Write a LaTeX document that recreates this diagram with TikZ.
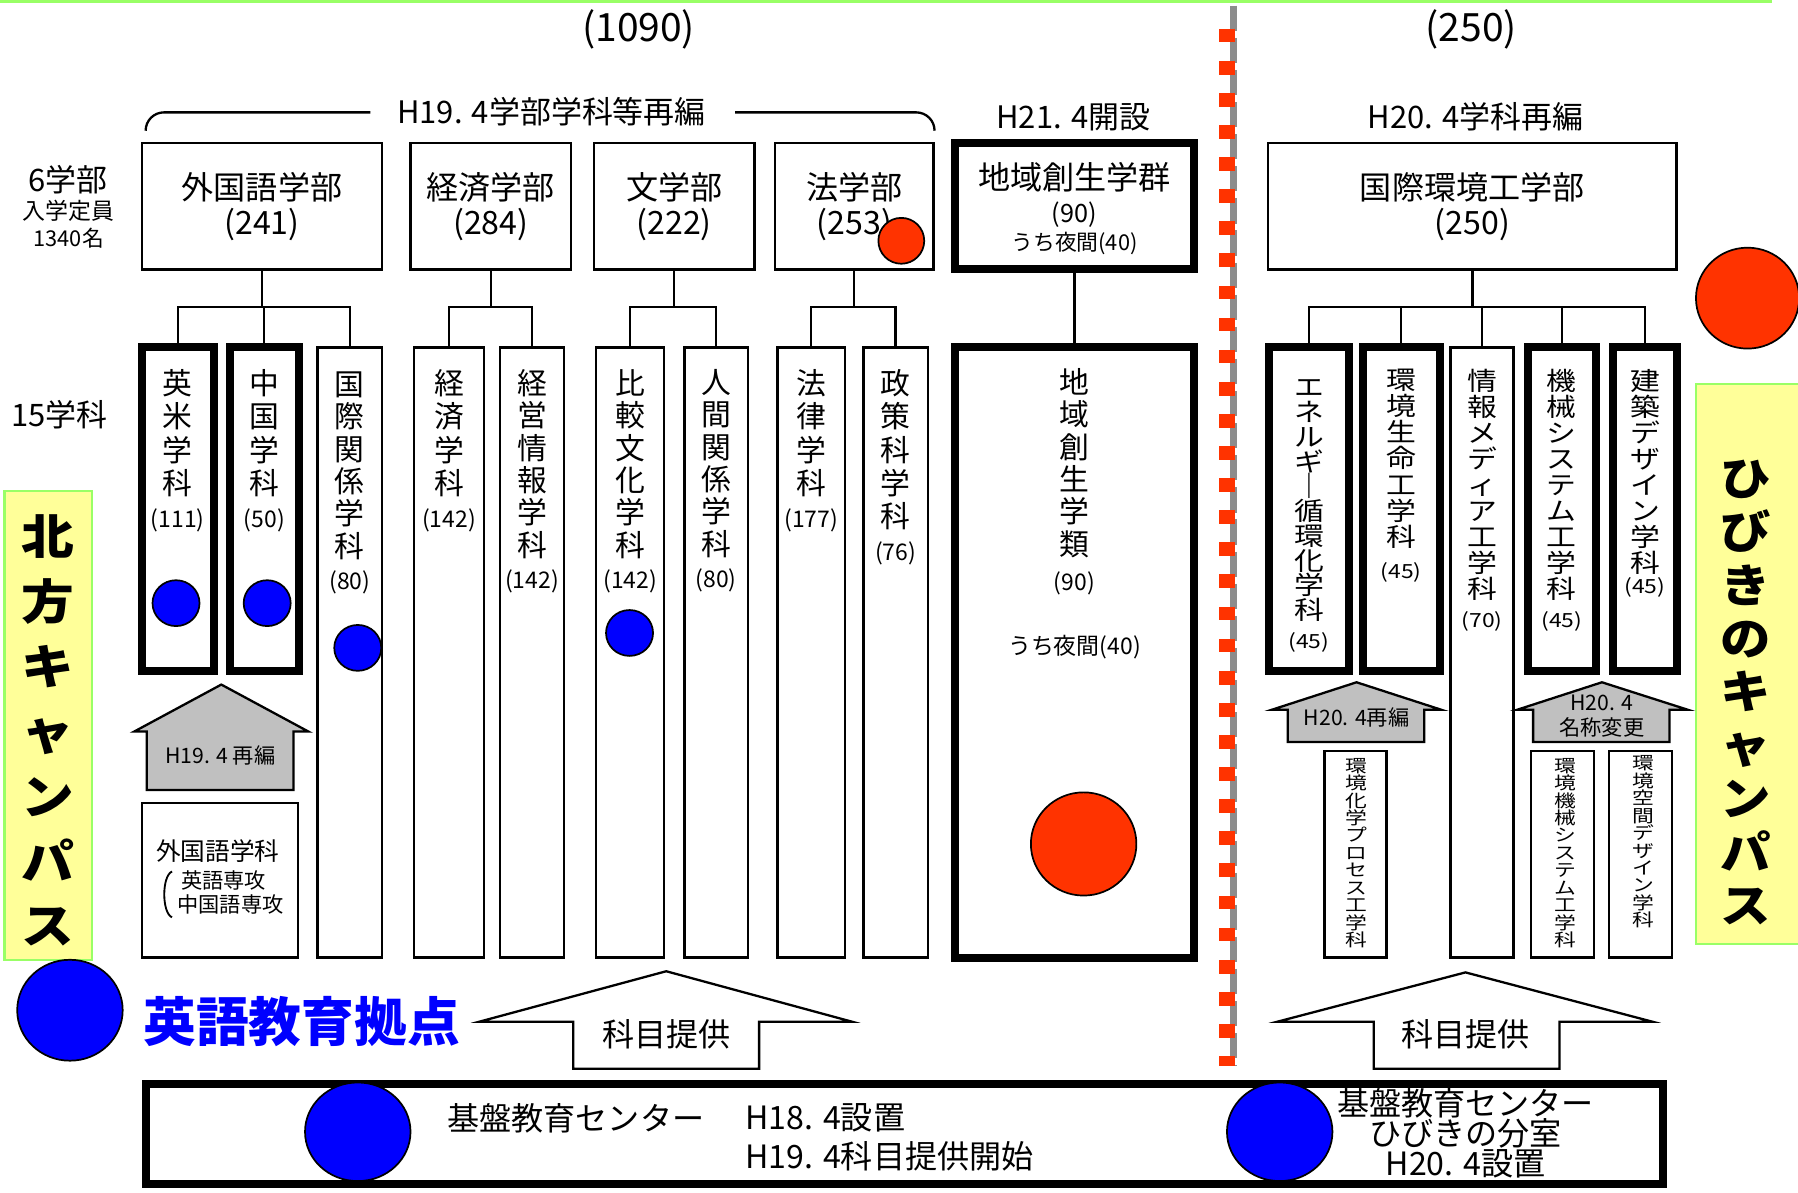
\documentclass[tikz,border=0pt]{standalone}
\usepackage{fontspec}
\setmainfont{Noto Sans CJK JP}
\usepackage{graphicx}
\usetikzlibrary{shapes.geometric}
\definecolor{myred}{HTML}{FF3300}
\definecolor{myblue}{HTML}{0000FF}
\definecolor{mygray}{HTML}{C0C0C0}
\definecolor{myyellow}{HTML}{FFFF99}
\definecolor{mygreen}{HTML}{99FF66}
\definecolor{divgray}{HTML}{8C8C8C}
\newcommand\fsz[1]{\fontsize{#1}{#1}\selectfont}
% vertical column of characters: yscale, font size, line skip, rows
\newcommand\vcol[4]{\scalebox{1}[#1]{\fontsize{#2}{#3}\selectfont\parbox{3em}{\centering #4}}}
% box node: style, line width, x1, y1, x2, y2 (outer), name, content
\newcommand\bn[8]{\node[#1,line width=#2pt,anchor=north west,inner sep=0pt,minimum width={#5-#3-#2},minimum height={#6-#4-#2}] (#7) at (#3,#4) {#8};}
\tikzset{
  boxs/.style={draw=black, fill=white},
  campus/.style={draw=mygreen, fill=myyellow},
  ball/.style={ellipse, draw=black, line width=1.5pt, inner sep=0pt},
  bball/.style={ball, fill=myblue},
  rball/.style={ball, fill=myred},
  lbl/.style={inner sep=0pt},
  garrow/.style={draw=black, line width=2pt, fill=mygray},
  warrow/.style={draw=black, line width=2pt, fill=white},
  conn/.style={line width=2pt},
  fac/.style={boxs, align=center, font=\fontsize{28}{30}\selectfont},
}
\begin{document}
\begin{tikzpicture}[x=1pt,y=-1pt]
\useasboundingbox (0,0) rectangle (1568,1040);
\draw[mygreen, line width=3pt] (0,1.5) -- (1545,1.5);

% headers
\node[lbl, font=\fsz{34}] (t1090) at (557,26) {(1090)};
\node[lbl, font=\fsz{34}] (t250) at (1283,26) {(250)};
\node[lbl, font=\fsz{27}] (hA) at (481,97) {H19. 4学部学科等再編};
\draw[conn, rounded corners=16pt] (127,114) -- (127,98) -- (323,98);
\draw[conn, rounded corners=16pt] (641,98) -- (815,98) -- (815,114);
\node[lbl, font=\fsz{27}] (hB) at (936,102) {H21. 4開設};
\node[lbl, font=\fsz{27}] (hC) at (1287,102) {H20. 4学科再編};

\node[lbl, font=\fsz{27}] (l6) at (59,157) {6学部};
\node[lbl, font=\fsz{20}] (l6b) at (60,184) {入学定員};
\node[lbl, font=\fsz{19}] (l6c) at (60,208) {1340名};
\node[lbl, font=\fsz{27}] (l15) at (52,362) {15学科};

% campus boxes
\bn{campus}{2}{3}{427}{81}{838}{kitaBox}{}
\node[anchor=north, lbl] (kitaT) at (42,449) {\vcol{0.9}{46}{62.8}{\bfseries 北\\方\\キ\\ャ\\ン\\パ\\ス}};
\bn{campus}{2}{1478}{334}{1580}{824}{hibiBox}{}
\node[anchor=north, lbl] (hibiT) at (1522,401) {\vcol{0.9}{44}{51.7}{\bfseries ひ\\び\\き\\の\\キ\\ャ\\ン\\パ\\ス}};
\node[rball, minimum width=90pt, minimum height=88pt] (rHibi) at (1524,260) {};

% faculties
\bn{fac}{2}{123}{124}{334}{236}{gai}{外国語学部\\(241)}
\bn{fac}{2}{357}{124}{499}{236}{kei}{経済学部\\(284)}
\bn{fac}{2}{517}{124}{659}{236}{bun}{文学部\\(222)}
\bn{fac}{2}{675}{124}{815}{236}{hou}{法学部\\(253)}
\bn{boxs}{7}{829}{121}{1045}{238}{chiiki}{}
\node[lbl, font=\fsz{28}] (chiikiA) at (937,155) {地域創生学群};
\node[lbl, font=\fsz{22}] (chiikiB) at (937,187) {(90)};
\node[lbl, font=\fsz{19}] (chiikiC) at (937,212) {うち夜間(40)};
\bn{fac}{2}{1105}{124}{1463}{236}{kan}{国際環境工学部\\(250)}
\node[rball, minimum width=40pt, minimum height=40pt] (rHou) at (786,210) {};

% departments
\bn{boxs}{7}{120}{299}{190}{589}{eibei}{}
\bn{boxs}{7}{197}{299}{264}{589}{chugoku}{}
\bn{boxs}{2}{276}{302}{334}{836}{kokukan}{}
\bn{boxs}{2}{360}{302}{423}{836}{keizai}{}
\bn{boxs}{2}{435}{302}{493}{836}{keiei}{}
\bn{boxs}{2}{519}{302}{580}{836}{hikaku}{}
\bn{boxs}{2}{596}{302}{653}{836}{ningen}{}
\bn{boxs}{2}{677}{302}{738}{836}{horitsu}{}
\bn{boxs}{2}{752}{302}{810}{836}{seisaku}{}
\bn{boxs}{7}{829}{299}{1045}{839}{chiikirui}{}
\bn{boxs}{7}{1103}{299}{1180}{589}{ene}{}
\bn{boxs}{7}{1185}{299}{1259}{589}{seimei}{}
\bn{boxs}{2}{1264}{302}{1321}{836}{joho}{}
\bn{boxs}{7}{1329}{299}{1395}{589}{kikai}{}
\bn{boxs}{7}{1403}{299}{1466}{589}{kenchiku}{}

% department texts
\node[anchor=north, lbl] (eibeiT) at (155,322) {\vcol{1}{26}{29}{英\\米\\学\\科\\{\fsz{20}(111)}}};
\node[anchor=north, lbl] (chugokuT) at (230.5,322) {\vcol{1}{26}{29}{中\\国\\学\\科\\{\fsz{20}(50)}}};
\node[anchor=north, lbl] (kokukanT) at (305,324) {\vcol{1}{26}{28.2}{国\\際\\関\\係\\学\\科\\{\fsz{20}(80)}}};
\node[anchor=north, lbl] (keizaiT) at (391.5,322) {\vcol{1}{26}{29}{経\\済\\学\\科\\{\fsz{20}(142)}}};
\node[anchor=north, lbl] (keieiT) at (464,322) {\vcol{1}{26}{28.2}{経\\営\\情\\報\\学\\科\\{\fsz{20}(142)}}};
\node[anchor=north, lbl] (hikakuT) at (549.5,322) {\vcol{1}{26}{28.2}{比\\較\\文\\化\\学\\科\\{\fsz{20}(142)}}};
\node[anchor=north, lbl] (ningenT) at (624.5,322) {\vcol{1}{26}{28.2}{人\\間\\関\\係\\学\\科\\{\fsz{20}(80)}}};
\node[anchor=north, lbl] (horitsuT) at (707.5,322) {\vcol{1}{26}{29}{法\\律\\学\\科\\{\fsz{20}(177)}}};
\node[anchor=north, lbl] (seisakuT) at (781,322) {\vcol{1}{26}{29}{政\\策\\科\\学\\科\\{\fsz{20}(76)}}};
\node[anchor=north, lbl] (chiikiruiT) at (937,321) {\vcol{1}{26}{28.2}{地\\域\\創\\生\\学\\類\\[3pt]{\fsz{20}(90)}}};
\node[lbl, font=\fsz{20}] (chiikiruiN) at (937,564) {うち夜間(40)};

\node[anchor=north, lbl] (eneT) at (1141.5,331) {\vcol{0.85}{26}{25.4}{エ\\ネ\\ル\\ギ\\｜\\循\\環\\化\\学\\科\\[4pt]{\fsz{20}(45)}}};
\node[anchor=north, lbl] (seimeiT) at (1222,322) {\vcol{0.85}{26}{26.7}{環\\境\\生\\命\\工\\学\\科\\[7pt]{\fsz{20}(45)}}};
\node[anchor=north, lbl] (johoT) at (1292.5,322) {\vcol{0.85}{26}{26.7}{情\\報\\メ\\デ\\ィ\\ア\\工\\学\\科\\[3pt]{\fsz{20}(70)}}};
\node[anchor=north, lbl] (kikaiT) at (1362,322) {\vcol{0.85}{26}{26.7}{機\\械\\シ\\ス\\テ\\ム\\工\\学\\科\\[3pt]{\fsz{20}(45)}}};
\node[anchor=north, lbl] (kenchikuT) at (1434.5,322) {\vcol{0.85}{26}{26.7}{建\\築\\デ\\ザ\\イ\\ン\\学\\科\\[-5pt]{\fsz{20}(45)}}};

% balls
\node[bball, minimum width=41pt, minimum height=40pt] (bEibei) at (153.5,526) {};
\node[bball, minimum width=41pt, minimum height=40pt] (bChugoku) at (233,526) {};
\node[bball, minimum width=41pt, minimum height=40pt] (bKokukan) at (312,565) {};
\node[bball, minimum width=41pt, minimum height=40pt] (bHikaku) at (549,552) {};
\node[rball, minimum width=92pt, minimum height=90pt] (rChiiki) at (945,736) {};

% tree connectors
\coordinate (bus) at (0,268);
\draw[conn] (gai.south) -- (gai.south |- bus) -| (eibei.north);
\draw[conn] (gai.south |- bus) -| (chugoku.north);
\draw[conn] (gai.south |- bus) -| (kokukan.north);
\draw[conn] (kei.south) -- (kei.south |- bus) -| (keizai.north);
\draw[conn] (kei.south |- bus) -| (keiei.north);
\draw[conn] (bun.south) -- (bun.south |- bus) -| (hikaku.north);
\draw[conn] (bun.south |- bus) -| (ningen.north);
\draw[conn] (hou.south) -- (hou.south |- bus) -| (horitsu.north);
\draw[conn] (hou.south |- bus) -| (seisaku.north);
\draw[conn] (chiiki.south) -- (chiikirui.north);
\draw[conn] (kan.south) -- (kan.south |- bus) -| (ene.north);
\draw[conn] (kan.south |- bus) -| (seimei.north);
\draw[conn] (kan.south |- bus) -| (joho.north);
\draw[conn] (kan.south |- bus) -| (kikai.north);
\draw[conn] (kan.south |- bus) -| (kenchiku.north);

% gray arrows
\draw[garrow] (193,597) -- (269,638) -- (256,638) -- (256,689) -- (128,689) -- (128,638) -- (117,638) -- cycle;
\node[lbl, font=\fsz{18.5}] (gA) at (192,659) {H19. 4 再編};
\draw[garrow] (1183,595) -- (1257,619) -- (1242,619) -- (1242,647) -- (1123,647) -- (1123,619) -- (1109,619) -- cycle;
\node[lbl, font=\fsz{18.5}] (gB) at (1183,626) {H20. 4再編};
\draw[garrow] (1397,595) -- (1472,619) -- (1456,619) -- (1456,647) -- (1337,647) -- (1337,619) -- (1323,619) -- cycle;
\node[lbl, font=\fsz{18.5}] (gC) at (1397,613) {H20. 4};
\node[lbl, font=\fsz{18.5}] (gD) at (1397,634) {名称変更};

% old departments
\bn{boxs}{2}{123}{699}{261}{836}{gaikoku}{}
\node[lbl, font=\fsz{21.5}] (gaikokuA) at (190,742) {外国語学科};
\node[lbl, font=\fsz{18.5}] (gaikokuB) at (195,768) {英語専攻};
\node[lbl, font=\fsz{18.5}] (gaikokuC) at (201,789) {中国語専攻};
\draw[line width=1.6pt] (150,760) .. controls (141,764) and (141,796) .. (150,800);

\bn{boxs}{2}{1154}{654}{1210}{836}{kagaku}{}
\node[anchor=north, lbl] (kagakuT) at (1183,661) {\vcol{0.8}{19}{19}{環\\境\\化\\学\\プ\\ロ\\セ\\ス\\工\\学\\科}};
\bn{boxs}{2}{1334}{654}{1391}{836}{kankikai}{}
\node[anchor=north, lbl] (kankikaiT) at (1365,661) {\vcol{0.8}{19}{19}{環\\境\\機\\械\\シ\\ス\\テ\\ム\\工\\学\\科}};
\bn{boxs}{2}{1402}{654}{1459}{836}{kukan}{}
\node[anchor=north, lbl] (kukanT) at (1433,659) {\vcol{0.8}{19}{19}{環\\境\\空\\間\\デ\\ザ\\イ\\ン\\学\\科}};

% divider
\draw[divgray, line width=6pt, dash pattern=on 22pt off 6pt] (1075.5,5) -- (1075.5,930);
\draw[myred, line width=14pt, dash pattern=on 12pt off 16pt] (1070,25) -- (1070,930);

% white arrows
\draw[warrow] (581,847) -- (743,891) -- (662,891) -- (662,932) -- (500,932) -- (500,891) -- (418,891) -- cycle;
\node[lbl, font=\fsz{28}] (wA) at (581,902) {科目提供};
\draw[warrow] (1278,848) -- (1441,891) -- (1360,891) -- (1360,932) -- (1198,932) -- (1198,891) -- (1114,891) -- cycle;
\node[lbl, font=\fsz{28}] (wB) at (1278,902) {科目提供};

% english center
\node[bball, minimum width=92pt, minimum height=88pt] (bEng) at (61,881) {};
\node[lbl, font=\fsz{46}\bfseries, text=myblue] (eng) at (263,891) {英語教育拠点};

% base
\bn{boxs}{7}{124}{942}{1454}{1036}{base}{}
\node[bball, minimum width=92pt, minimum height=86pt] (bBaseL) at (312,987) {};
\node[bball, minimum width=92pt, minimum height=86pt] (bBaseR) at (1116,987) {};
\node[lbl, anchor=west, font=\fsz{28}] (baseA) at (390,975) {基盤教育センター};
\node[lbl, anchor=west, font=\fsz{28}] (baseB) at (650,975) {H18. 4設置};
\node[lbl, anchor=west, font=\fsz{28}] (baseC) at (650,1008) {H19. 4科目提供開始};
\node[lbl, align=center, font=\fontsize{28}{25.5}\selectfont] (baseD) at (1278,988) {基盤教育センター\\ひびきの分室\\H20. 4設置};
\end{tikzpicture}
\end{document}
